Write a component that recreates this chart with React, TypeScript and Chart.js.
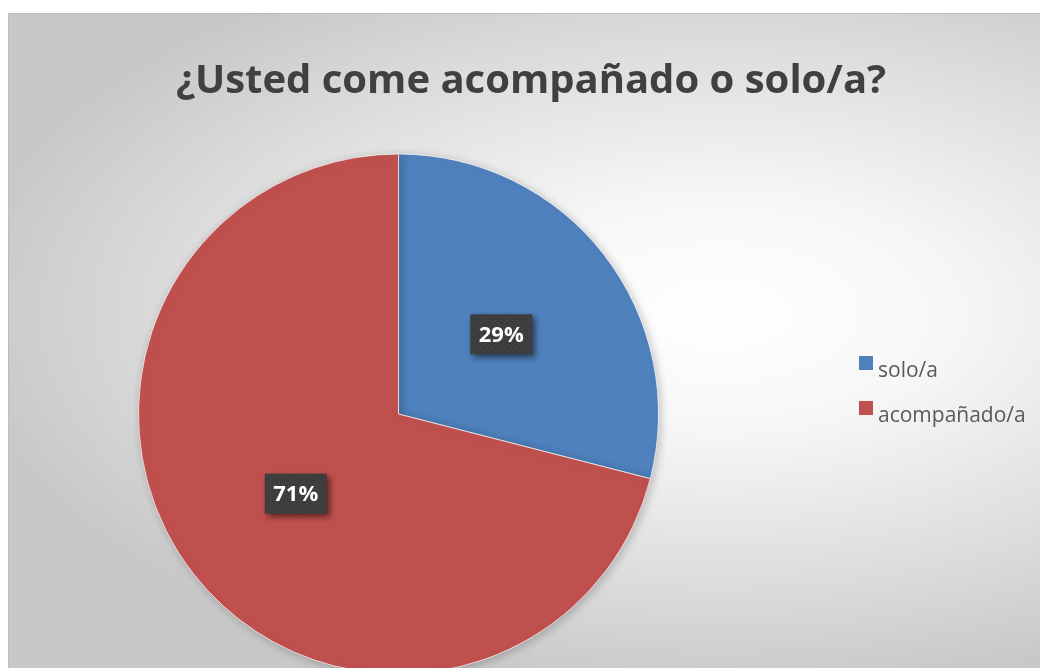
import React, { useEffect, useRef } from "react";
import { Chart, registerables } from "chart.js";

Chart.register(...registerables);

const TITLE = "¿Usted come acompañado o solo/a?";
const categories = ["solo/a", "acompañado/a"];
const values = [29, 71];
const colors = ["#4f81bd", "#c0504d"];

const W = 1032;
const H = 655;

function makePattern(ctx: CanvasRenderingContext2D) {
  const c = document.createElement("canvas");
  c.width = 6;
  c.height = 6;
  const p = c.getContext("2d")!;
  p.fillStyle = "#3d3d3d";
  p.fillRect(0, 0, 6, 6);
  p.fillStyle = "#4d4d4d";
  p.fillRect(1, 1, 1, 1);
  p.fillRect(4, 4, 1, 1);
  return ctx.createPattern(c, "repeat");
}

const backgroundPlugin = {
  id: "bg",
  beforeDraw(chart: any) {
    const { ctx, width, height } = chart;
    ctx.save();
    const cx = 712;
    const cy = 300;
    const sy = 0.5;
    ctx.translate(cx, cy);
    ctx.scale(1, sy);
    const g = ctx.createRadialGradient(0, 0, 0, 0, 0, 760);
    g.addColorStop(0, "#ffffff");
    g.addColorStop(0.3, "#f7f7f7");
    g.addColorStop(0.7, "#dddddd");
    g.addColorStop(1, "#c8c8c8");
    ctx.fillStyle = g;
    ctx.fillRect(-cx, -cy / sy, width, height / sy);
    ctx.restore();
    ctx.save();
    ctx.strokeStyle = "#bdbdbd";
    ctx.lineWidth = 1;
    ctx.beginPath();
    ctx.moveTo(0.5, height);
    ctx.lineTo(0.5, 0.5);
    ctx.lineTo(width, 0.5);
    ctx.stroke();
    ctx.restore();
  },
};

const shadowPlugin = {
  id: "pieShadow",
  beforeDatasetsDraw(chart: any) {
    const ctx = chart.ctx;
    ctx.save();
    ctx.shadowColor = "rgba(0,0,0,0.22)";
    ctx.shadowBlur = 10;
    ctx.shadowOffsetX = 2;
    ctx.shadowOffsetY = 2;
  },
  afterDatasetsDraw(chart: any) {
    chart.ctx.restore();
  },
};

const decorPlugin = {
  id: "decor",
  afterDraw(chart: any) {
    const { ctx } = chart;
    // title
    ctx.save();
    ctx.fillStyle = "#404040";
    ctx.font = 'bold 40px "Open Sans"';
    ctx.textAlign = "center";
    ctx.textBaseline = "alphabetic";
    ctx.fillText(TITLE, 523, 80);
    ctx.restore();

    // legend
    const labels: string[] = chart.data.labels;
    const bg: string[] = chart.data.datasets[0].backgroundColor;
    ctx.save();
    ctx.font = '21px "Open Sans"';
    ctx.textAlign = "left";
    ctx.textBaseline = "alphabetic";
    labels.forEach((lab, i) => {
      const y = 343 + i * 45;
      ctx.fillStyle = bg[i];
      ctx.fillRect(851, y, 14, 14);
      ctx.fillStyle = "#595959";
      ctx.fillText(lab, 870, y + 21);
    });
    ctx.restore();

    // data labels
    const meta = chart.getDatasetMeta(0);
    const data: number[] = chart.data.datasets[0].data;
    const total = data.reduce((a, b) => a + b, 0);
    const pattern = makePattern(ctx);
    meta.data.forEach((arc: any, i: number) => {
      const pt = arc.getCenterPoint();
      const text = Math.round((data[i] / total) * 100) + "%";
      ctx.save();
      const bw = 62;
      const bh = 40;
      const x = pt.x - bw / 2;
      const y = pt.y - bh / 2;
      ctx.shadowColor = "rgba(0,0,0,0.55)";
      ctx.shadowBlur = 6;
      ctx.shadowOffsetX = 3;
      ctx.shadowOffsetY = 3;
      ctx.fillStyle = pattern || "#3f3f3f";
      ctx.fillRect(x, y, bw, bh);
      ctx.restore();
      ctx.save();
      ctx.font = 'bold 22px "Open Sans"';
      ctx.fillStyle = "#ffffff";
      ctx.textAlign = "center";
      ctx.textBaseline = "middle";
      ctx.fillText(text, pt.x, pt.y + 1);
      ctx.restore();
    });
  },
};

export default function App() {
  const ref = useRef<HTMLCanvasElement | null>(null);
  useEffect(() => {
    if (!ref.current) return;
    const chart = new Chart(ref.current, {
      type: "pie",
      data: {
        labels: categories,
        datasets: [
          {
            data: values,
            backgroundColor: colors,
            borderColor: "rgba(255,255,255,0.7)",
            borderWidth: 1,
            radius: 260,
            clip: false,
          } as any,
        ],
      },
      options: {
        responsive: false,
        animation: false,
        devicePixelRatio: 1,
        layout: { padding: { top: 147, bottom: 0, left: 0, right: 251 } },
        plugins: {
          title: { display: false },
          legend: { display: false },
          tooltip: { enabled: false },
        },
      },
      plugins: [backgroundPlugin, shadowPlugin, decorPlugin],
    });
    return () => chart.destroy();
  }, []);
  return (
    <div style={{ position: "fixed", left: 8, top: 13, width: W, height: H, overflow: "hidden" }}>
      <canvas ref={ref} width={W} height={H} style={{ display: "block" }} />
    </div>
  );
}
